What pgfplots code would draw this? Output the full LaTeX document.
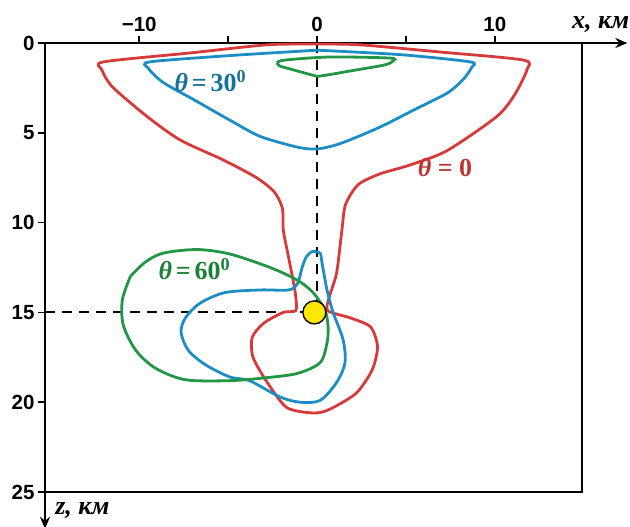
\documentclass[border=0pt]{standalone}
\usepackage{fontspec}
\setsansfont{Liberation Sans}
\newfontfamily\tnr{Liberation Serif}
\usepackage{pgfplots}
\pgfplotsset{compat=1.18}
\usetikzlibrary{arrows.meta}
\definecolor{cred}{RGB}{214,58,58}
\definecolor{cblue}{RGB}{28,142,196}
\definecolor{cgreen}{RGB}{34,150,68}
\definecolor{ldot}{RGB}{255,232,0}
% theta labels: size, gap round "=", value
\newcommand{\lbl}[3]{{\fontsize{#1}{#1}\selectfont\tnr\bfseries\itshape θ\upshape\hspace{#2}=\hspace{#2}#3}}

\begin{document}
\begin{tikzpicture}
\useasboundingbox (-45pt,-35pt) rectangle (585pt,492pt);
\begin{axis}[
  at={(0,0)}, anchor=south west,
  scale only axis, width=537pt, height=449pt,
  xmin=-15.3, xmax=14.9, ymin=0, ymax=25,
  y dir=reverse,
  clip=false,
  axis line style={line width=2pt},
  xtick={-10,-5,0,5,10}, xticklabels={−10,,0,,10},
  ytick={0,5,10,15,20,25}, yticklabels={0,5,10,15,20,25},
  xtick pos=right, xticklabel pos=right, ytick pos=left,
  tick align=outside, major tick length=7pt,
  tick style={line width=1.5pt, black},
  tick label style={font=\fontsize{20.5}{20.5}\selectfont\sffamily\bfseries},
  xticklabel style={yshift=1pt},
]
% dashed guides to the source
\addplot[black, line width=2pt, dash pattern=on 10pt off 7pt] coordinates {(0,0)(0,14.4)};
\addplot[black, line width=2pt, dash pattern=on 10pt off 7pt] coordinates {(-15.3,15)(-0.8,15)};

% theta = 0
\addplot[cred, line width=2.8pt, smooth, tension=0.45] coordinates {
(0,0.06)(2.4,0.1)(6.9,0.5)(11.6,0.95)(11.8,1.5)(11.1,2.9)(10.1,4.1)(7.3,6.0)
(5.2,6.8)(3.5,7.3)(2.3,7.9)(1.6,9.0)(1.4,10.4)(1.1,12.8)(0.7,14.1)(0.6,14.9)
(1.85,15.3)(3.0,15.8)(3.4,16.9)(3.1,18.2)(2.2,19.5)(0.7,20.4)(-0.2,20.6)
(-1.7,20.3)(-2.8,18.9)(-3.6,17.5)(-3.65,16.4)(-3.0,15.6)(-1.9,15.0)(-1.2,14.9)
(-1.2,14.1)(-1.35,13.2)(-1.65,11.7)(-1.9,10.4)(-1.95,9.2)(-2.4,8.3)(-3.4,7.5)
(-5.3,6.5)(-7.7,5.4)(-9.55,4.1)(-11.5,2.45)(-12.1,1.5)(-12.0,1.05)(-7.1,0.55)
(-2.8,0.1)(0,0.06)};

% theta = 30
\addplot[cblue, line width=2.8pt, smooth, tension=0.45] coordinates {
(0,0.4)(4.7,0.65)(8.6,1.05)(8.7,1.35)(8.2,2.05)(7.3,2.8)(5.5,3.7)(3.5,4.7)
(1.3,5.6)(0,5.9)(-1.1,5.8)(-3.2,5.2)(-4.9,4.3)(-6.85,3.2)(-8.65,2.2)(-9.5,1.4)
(-9.4,1.05)(-4.9,0.7)(0,0.4)};
\addplot[cblue, line width=2.8pt, smooth, tension=0.5] coordinates {
(-0.28,11.6)(0.17,11.7)(0.28,12.25)(0.56,13.75)(0.9,15.0)(1.46,16.5)(1.57,17.8)
(1.1,18.9)(0.17,19.9)(-0.96,20.0)(-2.1,19.7)(-3.8,18.8)(-4.9,18.6)(-6.3,17.9)
(-7.25,17.1)(-7.65,16.1)(-7.4,15.3)(-6.6,14.5)(-5.2,13.9)(-3.2,13.75)(-1.6,13.75)
(-1.1,13.4)(-0.84,12.5)(-0.6,11.9)(-0.28,11.6)};

% theta = 60
\addplot[cgreen, line width=2.8pt, smooth, tension=0.5] coordinates {
(-2.25,1.1)(-1.8,0.95)(0.73,0.78)(4.1,0.84)(4.27,1.0)(3.8,1.22)(1.85,1.56)
(0.17,1.84)(-0.28,1.78)(-1.5,1.45)(-2.1,1.28)(-2.25,1.1)};
\addplot[cgreen, line width=2.8pt, smooth, tension=0.5] coordinates {
(-10.5,13.0)(-9.66,12.2)(-8.65,11.7)(-6.74,11.5)(-4.9,11.75)(-2.64,12.5)
(-1.12,13.2)(-0.22,13.9)(0.45,14.9)(0.62,15.8)(0.56,16.7)(0.17,17.8)(-1.12,18.4)
(-3.0,18.65)(-4.9,18.8)(-7.4,18.75)(-9.1,18.1)(-10.2,17.1)(-10.9,15.7)
(-10.95,14.3)(-10.5,13.0)};

% source point
\addplot[only marks, mark=*, mark size=11.5pt,
  mark options={fill=ldot, draw=black, line width=1.4pt}] coordinates {(-0.15,15.0)};

% axis arrows and labels
\draw[line width=2pt, -{Stealth[length=12pt,width=10pt]}] (axis cs:14.9,0) -- (axis cs:17.45,0);
\draw[line width=2pt, -{Stealth[length=12pt,width=10pt]}] (axis cs:-15.3,25) -- (axis cs:-15.3,27.05);
\node[font=\fontsize{26}{26}\selectfont\tnr\bfseries\itshape] at (axis cs:15.95,-1.05) {x, км};
\node[font=\fontsize{26}{26}\selectfont\tnr\bfseries\itshape] at (axis cs:-13.2,26.05) {z, км};

\node[text=cblue!80!black] at (axis cs:-6.0,2.1) {\lbl{26}{0.15em}{30\textsuperscript{0}}};
\node[text=cred!90!black] at (axis cs:7.2,6.96) {\lbl{26}{0.25em}{0}};
\node[text=cgreen!85!black] at (axis cs:-6.9,12.6) {\lbl{26}{0.15em}{60\textsuperscript{0}}};
\end{axis}
\end{tikzpicture}
\end{document}
